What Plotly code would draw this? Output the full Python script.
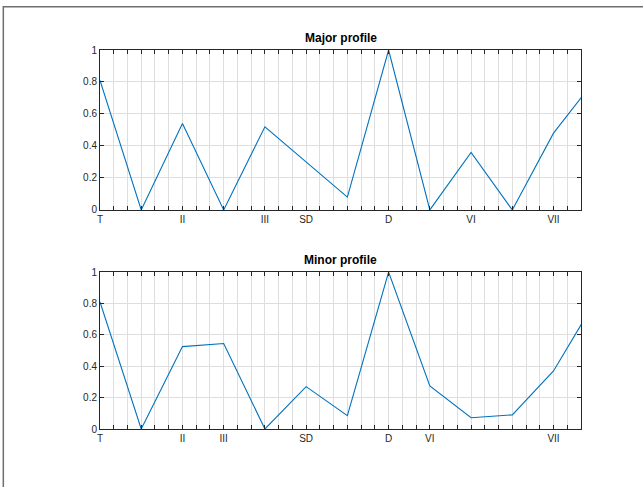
import plotly.graph_objects as go
from plotly.subplots import make_subplots

# Profile positions (semitone index; last point wraps to the tonic)
semitones = [0, 1, 2, 3, 4, 5, 6, 7, 8, 9, 10, 11, 12]
major_values = [0.81, 0.00, 0.54, 0.00, 0.52, 0.30, 0.08, 1.00, 0.00, 0.36, 0.00, 0.48, 0.81]
minor_values = [0.81, 0.00, 0.525, 0.545, 0.00, 0.27, 0.085, 1.00, 0.275, 0.072, 0.09, 0.37, 0.81]

major_tick_semitones = [0, 2, 4, 5, 7, 9, 11]
major_tick_labels = ["T", "II", "III", "SD", "D", "VI", "VII"]
minor_tick_semitones = [0, 2, 3, 5, 7, 8, 11]
minor_tick_labels = ["T", "II", "III", "SD", "D", "VI", "VII"]

y_ticks = [0, 0.2, 0.4, 0.6, 0.8, 1]
steps_per_semitone = 3  # minor grid subdivision of the x axis
x_max = 35

FONT = "Liberation Sans, Arial, Helvetica, sans-serif"
LINE = "#0072BD"
AX = "#262626"
GRID = "#dedede"

fig = make_subplots(rows=2, cols=1, vertical_spacing=0.0)

def tick_arrays(tick_semis, labels):
    vals = list(range(0, x_max + 1))
    text = [""] * len(vals)
    for s, l in zip(tick_semis, labels):
        text[s * steps_per_semitone] = l
    return vals, text

for row, vals, ts, tl in [(1, major_values, major_tick_semitones, major_tick_labels),
                          (2, minor_values, minor_tick_semitones, minor_tick_labels)]:
    xs = [s * steps_per_semitone for s in semitones]
    fig.add_trace(go.Scatter(x=xs, y=vals, mode="lines",
                             line=dict(color=LINE, width=1.1),
                             showlegend=False, cliponaxis=True, hoverinfo="skip"),
                  row=row, col=1)
    tv, tt = tick_arrays(ts, tl)
    fig.update_xaxes(range=[0, x_max], tickvals=tv, ticktext=tt,
                     ticks="inside", ticklen=4, tickcolor=AX, tickwidth=1,
                     showline=True, linecolor=AX, linewidth=1, mirror="ticks",
                     showgrid=True, gridcolor=GRID, gridwidth=1, zeroline=False,
                     tickfont=dict(family=FONT, size=10, color=AX),
                     row=row, col=1)
    fig.update_yaxes(range=[0, 1], tickvals=y_ticks,
                     ticktext=["0", "0.2", "0.4", "0.6", "0.8", "1"],
                     ticks="inside", ticklen=4, tickcolor=AX, tickwidth=1,
                     showline=True, linecolor=AX, linewidth=1, mirror="ticks",
                     showgrid=True, gridcolor=GRID, gridwidth=1, zeroline=False,
                     tickfont=dict(family=FONT, size=10, color=AX),
                     row=row, col=1)

fig.update_layout(
    width=643, height=487,
    margin=dict(l=100, r=62, t=50, b=58),
    paper_bgcolor="white", plot_bgcolor="white",
    xaxis=dict(domain=[0, 1]),
    yaxis=dict(domain=[0.578, 1]),
    yaxis2=dict(domain=[0, 0.414]),
    font=dict(family=FONT, size=10, color=AX),
)

fig.add_annotation(text="<b>Major profile</b>", xref="paper", yref="paper",
                   x=0.5, y=1.0, yshift=3, xanchor="center", yanchor="bottom",
                   showarrow=False, font=dict(family=FONT, size=12, color="black"))
fig.add_annotation(text="<b>Minor profile</b>", xref="paper", yref="paper",
                   x=0.5, y=0.414, yshift=3, xanchor="center", yanchor="bottom",
                   showarrow=False, font=dict(family=FONT, size=12, color="black"))

# window frame (top and left edges)
fig.add_shape(type="line", xref="paper", yref="paper",
              x0=-0.201, x1=-0.201, y0=-0.2, y1=1.116,
              line=dict(color="#6e6e6e", width=1.5))
fig.add_shape(type="line", xref="paper", yref="paper",
              x0=-0.201, x1=1.2, y0=1.114, y1=1.114,
              line=dict(color="#6e6e6e", width=1.5))

fig.write_html("out.html", config={"displayModeBar": False},
               post_script="document.body.style.margin='0px';")
